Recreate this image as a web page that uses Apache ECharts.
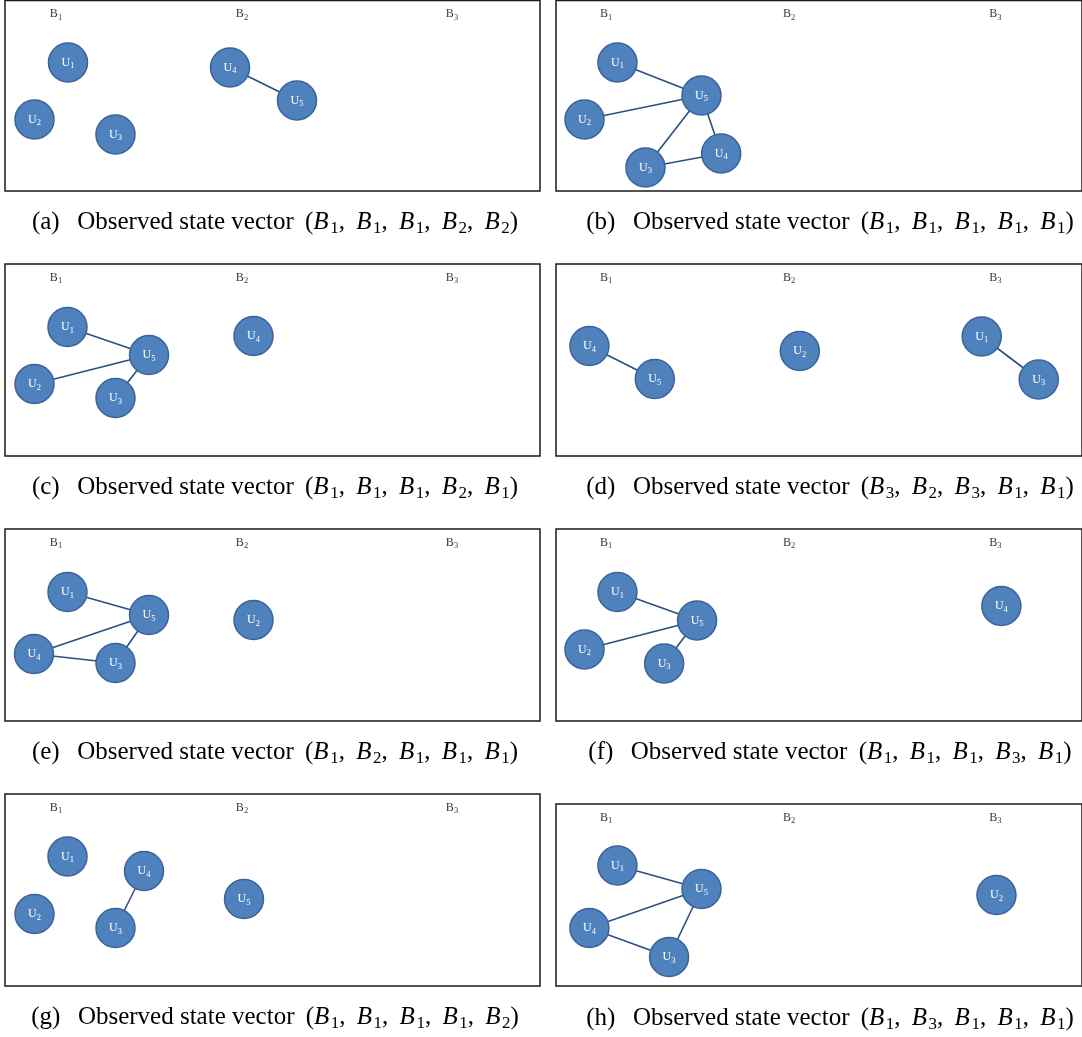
<!DOCTYPE html>
<html>
<head>
<meta charset="utf-8">
<script src="https://cdn.jsdelivr.net/npm/echarts@6/dist/echarts.min.js"></script>
<style>
  html, body { margin: 0; padding: 0; background: #fff; }
  #chart { width: 1082px; height: 1037px; }
</style>
</head>
<body>
<div id="chart"></div>
<script>
// Base stations named along the top of each panel, with their x in panel units
const baseStations = ['B1', 'B2', 'B3'];
const baseStationX = [51, 237, 447];

// Users shown as nodes in every panel
const users = ['U1', 'U2', 'U3', 'U4', 'U5'];

// Observed state vectors (serving base station of U1..U5)
const stateA = ['B1', 'B1', 'B1', 'B2', 'B2'];
const stateB = ['B1', 'B1', 'B1', 'B1', 'B1'];
const stateC = ['B1', 'B1', 'B1', 'B2', 'B1'];
const stateD = ['B3', 'B2', 'B3', 'B1', 'B1'];
const stateE = ['B1', 'B2', 'B1', 'B1', 'B1'];
const stateF = ['B1', 'B1', 'B1', 'B3', 'B1'];
const stateG = ['B1', 'B1', 'B1', 'B1', 'B2'];
const stateH = ['B1', 'B3', 'B1', 'B1', 'B1'];

// User positions [x, y] inside each panel (U1..U5)
const usersA = [[63, 62], [29.5, 119], [110.5, 134], [225, 67], [292, 100]];
const usersB = [[62.5, 62], [29, 119], [91, 167], [168, 153], [148, 95]];
const usersC = [[62.5, 63], [29.5, 120], [110.5, 134], [248.5, 72], [144, 91]];
const usersD = [[433, 72.5], [248, 87], [491, 115.5], [34, 82], [100.5, 115]];
const usersE = [[62.5, 63], [248.5, 91], [110.5, 134], [29, 125], [144, 86]];
const usersF = [[62.5, 63], [29, 120.5], [110, 134.5], [453, 77], [143.5, 91.5]];
const usersG = [[62.5, 62.5], [29.5, 120], [110.5, 134], [139, 77], [239, 105]];
const usersH = [[62.5, 61.5], [448, 91], [115, 153], [34, 124], [148, 85]];

// Links between users (1-based user numbers)
const linksA = [[4, 5]];
const linksB = [[1, 5], [2, 5], [3, 5], [4, 5], [3, 4]];
const linksC = [[1, 5], [2, 5], [3, 5]];
const linksD = [[4, 5], [1, 3]];
const linksE = [[1, 5], [4, 5], [3, 5], [4, 3]];
const linksF = [[1, 5], [2, 5], [3, 5]];
const linksG = [[4, 3]];
const linksH = [[1, 5], [4, 5], [4, 3], [3, 5]];

const panels = [
  { tag: 'a', state: stateA, pos: usersA, links: linksA },
  { tag: 'b', state: stateB, pos: usersB, links: linksB },
  { tag: 'c', state: stateC, pos: usersC, links: linksC },
  { tag: 'd', state: stateD, pos: usersD, links: linksD },
  { tag: 'e', state: stateE, pos: usersE, links: linksE },
  { tag: 'f', state: stateF, pos: usersF, links: linksF },
  { tag: 'g', state: stateG, pos: usersG, links: linksG },
  { tag: 'h', state: stateH, pos: usersH, links: linksH }
];

// Page layout of the eight panels
const colLeft = [5, 556];
const colCenter = [275, 830];
const panelWidth = 535;
const panelTop = [0.5, 0.5, 264, 264, 529, 529, 794, 804];
const panelHeight = [190.5, 190.5, 192, 192, 192, 192, 192, 182];
const captionY = [222, 222, 487, 487, 752, 752, 1017, 1018];

const SERIF = '"Liberation Serif", "Times New Roman", "DejaVu Serif", serif';
const NODE_FILL = '#4f81bd';
const NODE_EDGE = '#3a639a';
const LINK_COLOR = '#2a4f80';

// "B1" -> "{m|B}{s|1}" for the rich-text subscripts
const sub = (name, main) => '{' + main + '|' + name[0] + '}{s|' + name.slice(1) + '}';

const smallRich = (color) => ({
  m: { fontFamily: SERIF, fontSize: 12, color: color, lineHeight: 16, fontWeight: 'normal' },
  s: { fontFamily: SERIF, fontSize: 8.5, color: color, lineHeight: 16, padding: [7, 0, 0, 0], fontWeight: 'normal' }
});

const grid = [], xAxis = [], yAxis = [], series = [], title = [];

panels.forEach((p, i) => {
  const col = i % 2;
  grid.push({
    left: colLeft[col], top: panelTop[i], width: panelWidth, height: panelHeight[i],
    show: true, borderColor: '#1a1a1a', borderWidth: 1.5, backgroundColor: '#fff'
  });
  xAxis.push({ gridIndex: i, type: 'value', min: 0, max: panelWidth, show: false });
  yAxis.push({ gridIndex: i, type: 'value', min: 0, max: panelHeight[i], inverse: true, show: false });

  // base-station names
  series.push({
    type: 'scatter', xAxisIndex: i, yAxisIndex: i, silent: true,
    symbolSize: 1, itemStyle: { color: 'rgba(0,0,0,0)' },
    data: baseStations.map((b, k) => ({ name: b, value: [baseStationX[k], 13.5] })),
    label: {
      show: true, position: 'inside',
      formatter: (q) => sub(q.name, 'm'),
      rich: smallRich('#000')
    }
  });

  // users and their links
  series.push({
    type: 'graph', coordinateSystem: 'cartesian2d', layout: 'none',
    xAxisIndex: i, yAxisIndex: i, silent: true,
    symbol: 'circle', symbolSize: 39,
    data: p.pos.map((xy, k) => ({ name: users[k], value: xy })),
    links: p.links.map(([s, t]) => ({ source: s - 1, target: t - 1 })),
    itemStyle: { color: NODE_FILL, borderColor: NODE_EDGE, borderWidth: 1.5 },
    lineStyle: { color: LINK_COLOR, width: 1.6, opacity: 1, curveness: 0 },
    label: {
      show: true, position: 'inside',
      formatter: (q) => sub(q.name, 'm'),
      rich: smallRich('#fff')
    },
    emphasis: { disabled: true }
  });

  // caption
  const vec = p.state.map((b) => sub(b, 'i')).join(', \u2009');
  title.push({
    text: '(' + p.tag + ')\u2002\u2009Observed state vector \u2009(' + vec + ')',
    left: colCenter[col], top: captionY[i],
    textAlign: 'center', textVerticalAlign: 'middle', padding: 0,
    textStyle: {
      fontFamily: SERIF, fontSize: 25, fontWeight: 'normal', color: '#000', lineHeight: 30,
      rich: {
        i: { fontFamily: SERIF, fontSize: 25, fontStyle: 'italic', fontWeight: 'normal', color: '#000', lineHeight: 30 },
        s: { fontFamily: SERIF, fontSize: 17, fontWeight: 'normal', color: '#000', lineHeight: 30, padding: [14, 0, 0, 1.5] }
      }
    }
  });
});

const chart = echarts.init(document.getElementById('chart'), null, { renderer: 'canvas' });
chart.setOption({
  animation: false,
  backgroundColor: '#fff',
  title, grid, xAxis, yAxis, series
});
</script>
</body>
</html>
